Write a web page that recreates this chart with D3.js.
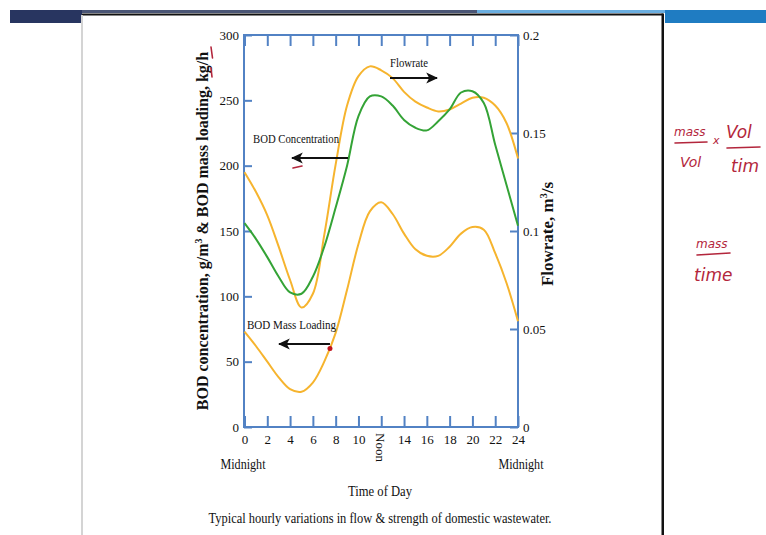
<!DOCTYPE html>
<html><head><meta charset="utf-8">
<script src="https://cdn.jsdelivr.net/npm/d3@7"></script>
<style>body{margin:0;background:#fff}svg{display:block}</style>
</head><body>
<script>
// ---------- data ----------
const hours = d3.range(0, 25);
const flowrate = [0.130,0.120,0.108,0.092,0.075,0.061,0.068,0.098,0.134,0.164,0.179,0.184,0.182,0.178,0.171,0.166,0.163,0.161,0.162,0.165,0.168,0.168,0.164,0.155,0.137];
const bodConc = [156,144,130,115,103,102,115,138,168,200,238,253,253,246,235,229,227,234,243,256,257,248,216,185,154];
const bodMass = [73,62,50,38,29,27,34,50,72,105,140,165,172,163,148,136,131,131,138,148,153,151,133,110,81];
const leftTicks = [0,50,100,150,200,250,300];
const rightTicks = [0,0.05,0.1,0.15,0.2];
const xTicks = d3.range(0, 25, 2);
const xTickLabels = {12: ""};

const W = 766, H = 535;
const svg = d3.select("body").append("svg").attr("width", W).attr("height", H);
const serif = "'Liberation Serif','Times New Roman',serif";
const axisBlue = "#5282c4", orange = "#f6b42e", green = "#34a336", inkRed = "#b3263c";

// ---------- slide decoration ----------
svg.append("rect").attr("x",10).attr("y",10).attr("width",72).attr("height",13).attr("fill","#283560");
svg.append("rect").attr("x",82).attr("y",10).attr("width",395).attr("height",3).attr("fill","#4a5575");
svg.append("rect").attr("x",477).attr("y",10).attr("width",188).attr("height",3).attr("fill","#6aaee0");
svg.append("rect").attr("x",665).attr("y",10).attr("width",101).attr("height",13).attr("fill","#1f7cc2");
svg.append("rect").attr("x",82).attr("y",13.5).attr("width",581).attr("height",2).attr("fill","#111");
svg.append("rect").attr("x",661.5).attr("y",13.5).attr("width",2.5).attr("height",H-13).attr("fill","#111");
svg.append("rect").attr("x",81).attr("y",15).attr("width",2).attr("height",H-15).attr("fill","#d4d4d4");

// ---------- scales ----------
const x = d3.scaleLinear().domain([0,24]).range([244.5,518]);
const yL = d3.scaleLinear().domain([0,300]).range([427,35]);
const yR = d3.scaleLinear().domain([0,0.2]).range([427,35]);

function styleAxis(g){
  g.select(".domain").remove();
  g.selectAll(".tick line").attr("stroke",axisBlue).attr("stroke-width",2);
  g.selectAll(".tick text").attr("fill","#111").style("font-family",serif).style("font-size","13px");
}
svg.append("g").attr("transform",`translate(${x(0)-0.5},0)`)
  .call(d3.axisLeft(yL).tickValues(leftTicks).tickSizeInner(-8).tickSizeOuter(0).tickPadding(5).tickFormat(d3.format("d")))
  .call(styleAxis);
svg.append("g").attr("transform",`translate(${x(24)},0)`)
  .call(d3.axisRight(yR).tickValues(rightTicks).tickSizeInner(-8).tickSizeOuter(0).tickPadding(5).tickFormat(d=>d===0?"0":String(d)))
  .call(styleAxis);
svg.append("g").attr("transform",`translate(0,${yL(0)})`)
  .call(d3.axisBottom(x).tickValues(xTicks).tickSizeInner(-11).tickSizeOuter(0).tickPadding(8).tickFormat(d=> d in xTickLabels ? xTickLabels[d] : String(d)))
  .call(styleAxis);
svg.append("g").attr("transform",`translate(0,${yL(300)})`)
  .call(d3.axisTop(x).tickValues(xTicks).tickSizeInner(-11).tickSizeOuter(0).tickFormat(""))
  .call(styleAxis);
// frame
svg.append("rect").attr("x",x(0)-0.5).attr("y",yL(300)).attr("width",x(24)-x(0)+0.5).attr("height",yL(0)-yL(300))
  .attr("fill","none").attr("stroke",axisBlue).attr("stroke-width",2);

// ---------- curves ----------
const lineL = d3.line().x((d,i)=>x(hours[i])).y(d=>yL(d)).curve(d3.curveCatmullRom.alpha(0.5));
const lineR = d3.line().x((d,i)=>x(hours[i])).y(d=>yR(d)).curve(d3.curveCatmullRom.alpha(0.5));
svg.append("path").datum(bodMass).attr("d",lineL).attr("fill","none").attr("stroke",orange).attr("stroke-width",2);
svg.append("path").datum(flowrate).attr("d",lineR).attr("fill","none").attr("stroke",orange).attr("stroke-width",2);
svg.append("path").datum(bodConc).attr("d",lineL).attr("fill","none").attr("stroke",green).attr("stroke-width",2);

// ---------- annotations ----------
const defs = svg.append("defs");
defs.append("marker").attr("id","ah").attr("viewBox","0 0 10 10").attr("refX",9).attr("refY",5)
  .attr("markerWidth",6).attr("markerHeight",6).attr("orient","auto").attr("markerUnits","strokeWidth")
  .append("path").attr("d","M0,0.5 L10,5 L0,9.5 L2.5,5 Z").attr("fill","#111");
function arrow(x1,y1,x2,y2){
  svg.append("line").attr("x1",x1).attr("y1",y1).attr("x2",x2).attr("y2",y2)
    .attr("stroke","#111").attr("stroke-width",2).attr("marker-end","url(#ah)");
}
function label(t,xx,yy,len){
  svg.append("text").attr("x",xx).attr("y",yy)
    .attr("textLength",len).attr("lengthAdjust","spacingAndGlyphs")
    .style("font-family",serif).style("font-size","13px").attr("fill","#111").text(t);
}
label("Flowrate",390,67,38);
arrow(390,78,437,78);
label("BOD Concentration",253,143,86);
arrow(348,158,292,158);
label("BOD Mass Loading",247,329,89);
arrow(x(7.5),344,279,344);
svg.append("circle").attr("cx",x(7.5)).attr("cy",yL(60)).attr("r",2.5).attr("fill","#c0141e");

// Noon label
svg.append("text").attr("transform",`translate(${x(12)-5},433) rotate(90)`)
  .style("font-family",serif).style("font-size","13px").attr("fill","#111").text("Noon");
function plain(t,xx,yy,len){
  svg.append("text").attr("x",xx).attr("y",yy).attr("text-anchor","middle")
    .attr("textLength",len).attr("lengthAdjust","spacingAndGlyphs")
    .style("font-family",serif).style("font-size","14px").attr("fill","#111").text(t);
}
plain("Midnight",243,469,45);
plain("Midnight",521,469,45);
plain("Time of Day",380,496,64);
plain("Typical hourly variations in flow & strength of domestic wastewater.",380,523,343);

// axis titles
const lt = svg.append("text").attr("transform","translate(208,231) rotate(-90)").attr("text-anchor","middle")
  .style("font-family",serif).style("font-size","16px").style("font-weight","bold").attr("fill","#111");
lt.append("tspan").text("BOD concentration, g/m");
lt.append("tspan").attr("dy",-6).style("font-size","10px").text("3");
lt.append("tspan").attr("dy",6).text(" & BOD mass loading, kg/h");
const rt = svg.append("text").attr("transform","translate(553,234) rotate(-90)").attr("text-anchor","middle")
  .style("font-family",serif).style("font-size","17px").style("font-weight","bold").attr("fill","#111");
rt.append("tspan").text("Flowrate, m");
rt.append("tspan").attr("dy",-6).style("font-size","10px").text("3");
rt.append("tspan").attr("dy",6).text("/s");

// ---------- handwritten notes ----------
function stroke(d,w){ svg.append("path").attr("d",d).attr("fill","none").attr("stroke",inkRed).attr("stroke-width",w||1.6).attr("stroke-linecap","round"); }
stroke("M211,47 L212.5,58");
stroke("M211,68 L212,77");
stroke("M293,168 L302,166");
function hw(t,xx,yy,size){
  svg.append("text").attr("x",xx).attr("y",yy).style("font-family","'DejaVu Sans',sans-serif").style("font-style","italic")
    .style("font-size",(size||14)+"px").attr("fill",inkRed).text(t);
}
hw("mass",674,136,12);
stroke("M675,143 L707,142");
hw("Vol",680,167,14);
hw("x",713,144,11);
hw("Vol",726,138,17);
stroke("M727,148 L760,147");
hw("tim",731,172,17);
hw("mass",696,248,12);
stroke("M697,255 L730,253");
hw("time",694,281,17);
</script>
</body></html>
